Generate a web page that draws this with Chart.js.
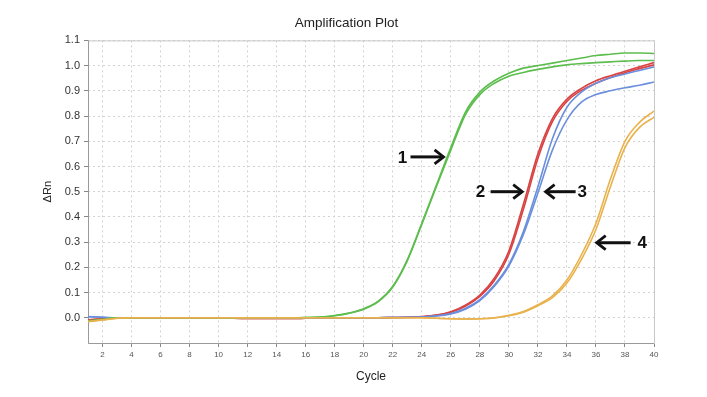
<!DOCTYPE html>
<html>
<head>
<meta charset="utf-8">
<title>Amplification Plot</title>
<script src="https://cdn.jsdelivr.net/npm/chart.js@4.4.1/dist/chart.umd.min.js"></script>
<style>
  html, body { margin: 0; padding: 0; background: #fff; }
  canvas { display: block; }
</style>
</head>
<body>
<canvas id="amp" width="707" height="397"></canvas>
<script>
// Amplification plot - delta Rn per cycle, 4 samples in duplicate
const cycles = [1,2,3,4,5,6,7,8,9,10,11,12,13,14,15,16,17,18,19,20,21,22,23,24,25,26,27,28,29,30,31,32,33,34,35,36,37,38,39,40];

const green1 = [-0.012,-0.006,0,0,0,0,0,0,0,0,0,0,0,0,0,0.001,0.003,0.009,0.019,0.036,0.066,0.125,0.23,0.375,0.525,0.675,0.815,0.895,0.94,0.97,0.99,1.0,1.01,1.02,1.03,1.04,1.045,1.05,1.05,1.048];
const green2 = [-0.014,-0.007,0,0,0,0,0,0,0,0,0,0,0,0,0,0.001,0.003,0.008,0.018,0.034,0.064,0.122,0.226,0.37,0.52,0.665,0.805,0.885,0.93,0.958,0.973,0.985,0.995,1.003,1.008,1.012,1.015,1.018,1.02,1.02];
const red1 = [-0.008,-0.004,0,0,0,0,0,0,0,0,-0.002,-0.003,-0.003,-0.003,-0.003,-0.002,-0.001,0,0,0,0,0.001,0.002,0.005,0.011,0.024,0.05,0.09,0.157,0.265,0.45,0.65,0.79,0.867,0.91,0.94,0.96,0.978,0.995,1.012];
const red2 = [-0.009,-0.004,0,0,0,0,0,0,0,0,-0.002,-0.003,-0.003,-0.003,-0.003,-0.002,-0.001,0,0,0,0,0.001,0.002,0.004,0.01,0.022,0.046,0.085,0.148,0.252,0.43,0.632,0.778,0.858,0.902,0.93,0.953,0.972,0.988,1.003];
const blue1 = [0.005,0.002,0,0,0,0,0,0,0,0,-0.001,-0.002,-0.002,-0.002,-0.002,-0.001,0,0,0,0,0,0.001,0.001,0.003,0.007,0.015,0.034,0.068,0.125,0.205,0.33,0.495,0.665,0.785,0.855,0.885,0.9,0.912,0.922,0.935];
const blue2 = [0.004,0.002,0,0,0,0,0,0,0,0,-0.001,-0.002,-0.002,-0.002,-0.002,-0.001,0,0,0,0,0,0.001,0.002,0.003,0.008,0.017,0.037,0.072,0.13,0.212,0.342,0.52,0.71,0.835,0.895,0.93,0.952,0.967,0.981,0.995];
const orange1 = [-0.015,-0.008,-0.002,0,0,0,0,0,0,0,0,0,0,0,0,0,0,0,0,0,0,0,0,0,-0.002,-0.004,-0.005,-0.004,0.0,0.01,0.025,0.052,0.087,0.15,0.25,0.375,0.55,0.7,0.775,0.82];
const orange2 = [-0.016,-0.009,-0.002,0,0,0,0,0,0,0,0,0,0,0,0,0,0,0,0,0,0,0,0,0,-0.002,-0.004,-0.005,-0.004,-0.001,0.008,0.022,0.048,0.08,0.138,0.232,0.35,0.52,0.675,0.755,0.795];

const xTicks = [2,4,6,8,10,12,14,16,18,20,22,24,26,28,30,32,34,36,38,40];
const yTicks = [0.0,0.1,0.2,0.3,0.4,0.5,0.6,0.7,0.8,0.9,1.0,1.1];

// numbered arrows drawn on the plot (cycle / delta Rn units)
const callouts = [
    { label: '1', textX: 22.67, y: 0.638, from: 23.22, to: 25.5 },
    { label: '2', textX: 28.05, y: 0.50, from: 28.74, to: 30.92 },
    { label: '3', textX: 35.06, y: 0.50, from: 34.6, to: 32.53 },
    { label: '4', textX: 39.19, y: 0.298, from: 38.39, to: 36.05 }
];

const FONT = '"Liberation Sans", Arial, sans-serif';
const GREEN = '#5dbd4e', RED = '#d94343', BLUE = '#6b8fdc', ORANGE = '#e9b24c';

function toPoints(vals){
    return cycles.map((c, i) => ({ x: c, y: vals[i] }));
}

function series(vals, color){
    return {
        data: toPoints(vals),
        borderColor: color,
        borderWidth: 1.6,
        pointRadius: 0,
        fill: false,
        cubicInterpolationMode: 'monotone'
    };
}

// box around plot area (grey frame, darker axes)
const frame = {
    id: 'frame',
    beforeDatasetsDraw(chart){
        const { ctx, chartArea: a } = chart;
        ctx.save();
        ctx.lineWidth = 1;
        ctx.strokeStyle = '#c8c8c8';
        ctx.strokeRect(a.left + 0.5, a.top + 0.5, a.right - a.left, a.bottom - a.top);
        ctx.strokeStyle = '#9a9a9a';
        ctx.beginPath();
        ctx.moveTo(a.left + 0.5, a.top);
        ctx.lineTo(a.left + 0.5, a.bottom + 0.5);
        ctx.lineTo(a.right, a.bottom + 0.5);
        ctx.stroke();
        ctx.restore();
    }
};

const arrows = {
    id: 'arrows',
    afterDatasetsDraw(chart){
        const { ctx, scales: { x, y } } = chart;
        ctx.save();
        ctx.fillStyle = '#111';
        ctx.strokeStyle = '#111';
        ctx.font = 'bold 17px ' + FONT;
        ctx.textAlign = 'center';
        ctx.textBaseline = 'middle';
        callouts.forEach(c => {
            const py = y.getPixelForValue(c.y);
            const x0 = x.getPixelForValue(c.from);
            const x1 = x.getPixelForValue(c.to);
            const dir = x1 > x0 ? 1 : -1;
            ctx.fillText(c.label, x.getPixelForValue(c.textX), py + 1);
            ctx.lineWidth = 3;
            ctx.lineCap = 'butt';
            ctx.beginPath();
            ctx.moveTo(x0, py);
            ctx.lineTo(x1 - dir * 2, py);
            ctx.stroke();
            ctx.lineWidth = 2.8;
            ctx.lineJoin = 'miter';
            ctx.beginPath();
            ctx.moveTo(x1 - dir * 9, py - 7);
            ctx.lineTo(x1, py);
            ctx.lineTo(x1 - dir * 9, py + 7);
            ctx.stroke();
        });
        ctx.restore();
    }
};

new Chart(document.getElementById('amp'), {
    type: 'line',
    data: {
        datasets: [
            series(orange1, ORANGE), series(orange2, ORANGE),
            series(green1, GREEN), series(green2, GREEN),
            series(blue1, BLUE), series(blue2, BLUE),
            series(red1, RED), series(red2, RED)
        ]
    },
    options: {
        responsive: false,
        animation: false,
        layout: { padding: { left: 0, right: 14, top: 0, bottom: 0 } },
        plugins: {
            legend: { display: false },
            tooltip: { enabled: false },
            title: {
                display: true,
                text: 'Amplification Plot',
                color: '#222',
                font: { family: FONT, size: 13.5, weight: 'normal', lineHeight: 1.2 },
                padding: { top: 15, bottom: 9.2 }
            }
        },
        scales: {
            x: {
                type: 'linear',
                min: 1, max: 40,
                afterBuildTicks(s){ s.ticks = xTicks.map(v => ({ value: v })); },
                afterFit(s){ s.height = 54; },
                ticks: { color: '#555', font: { family: FONT, size: 8 }, padding: 3, maxRotation: 0, autoSkip: false },
                grid: { color: '#d2d2d2', borderDash: [2, 3], tickColor: '#888', tickLength: 4 },
                border: { display: false, dash: [2, 3] },
                title: { display: true, text: 'Cycle', color: '#222', font: { family: FONT, size: 12 }, padding: { top: 0, bottom: 13 } }
            },
            y: {
                min: -0.1, max: 1.1,
                afterBuildTicks(s){ s.ticks = yTicks.map(v => ({ value: v })); },
                afterFit(s){ s.width = 88; },
                ticks: { color: '#333', font: { family: FONT, size: 11 }, padding: 4, callback: v => v.toFixed(1) },
                grid: { color: '#d2d2d2', borderDash: [2, 3], tickColor: '#888', tickLength: 4 },
                border: { display: false, dash: [2, 3] },
                title: { display: true, text: '\u0394Rn', color: '#222', font: { family: FONT, size: 11 }, padding: { top: 41, bottom: 0 } }
            },
            // empty right gutter so the plot stops where the original does
            yRight: {
                position: 'right',
                display: true,
                grid: { display: false, drawTicks: false },
                ticks: { display: false },
                border: { display: false },
                afterFit(s){ s.width = 39; }
            }
        }
    },
    plugins: [frame, arrows]
});
</script>
</body>
</html>
